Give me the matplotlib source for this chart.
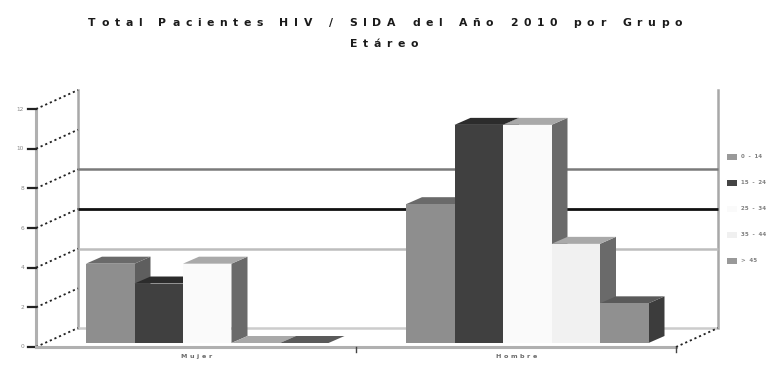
import matplotlib
matplotlib.use("Agg")
import matplotlib.pyplot as plt
from matplotlib.patches import Polygon, Rectangle

# ---- data ----
categories = ["Mujer", "Hombre"]
age_groups = ["0 - 14", "15 - 24", "25 - 34", "35 - 44", "> 45"]
values = {
    "Mujer": [4, 3, 4, 0, 0],
    "Hombre": [7, 11, 11, 5, 2],
}
y_ticks = [0, 2, 4, 6, 8, 10, 12]
title_line1 = "Total Pacientes HIV / SIDA del Año 2010 por Grupo"
title_line2 = "Etáreo"

# ---- styling ----
front_colors = ["#8e8e8e", "#404040", "#fafafa", "#f1f1f1", "#909090"]
top_colors = ["#6a6a6a", "#2c2c2c", "#a9a9a9", "#a9a9a9", "#5a5a5a"]
side_colors = ["#5e5e5e", "#2c2c2c", "#6a6a6a", "#6a6a6a", "#3c3c3c"]
legend_colors = ["#999999", "#444444", "#fafafa", "#f0f0f0", "#999999"]
wall_lines = {8: ("#7a7a7a", 1.8), 6: ("#111111", 2.0), 4: ("#bdbdbd", 1.8), 0: ("#cccccc", 1.8)}

W, H = 770, 367
XU = 320.0        # pixels per category slot
X0 = 36.0         # pixel column of the front value axis
YU = 19.83        # pixels per value unit
Y0 = 347.0        # pixel row of value 0 on the front plane

DX, DY = 42 / XU, 19 / YU              # depth of the whole floor
BFX, BFY = 0.0, 4 / YU                 # bars' front plane offset
BDX, BDY = 16 / XU, 7 / YU             # depth of each bar
BAR_W = 48.5 / XU
BAR_START = 50 / XU

fig = plt.figure(figsize=(W / 100, H / 100), dpi=100)
ax = fig.add_axes([0, 0, 1, 1])
ax.set_xlim(-X0 / XU, (W - X0) / XU)
ax.set_ylim(-(H - Y0) / YU, Y0 / YU)
ax.axis("off")

# back wall
ymax = y_ticks[-1]
ax.plot([DX, DX], [DY, ymax + DY], color="#a8a8a8", lw=1.8, zorder=1)
ax.plot([2 + DX, 2 + DX], [DY, ymax + DY], color="#a8a8a8", lw=1.8, zorder=1)
for v, (c, lw) in wall_lines.items():
    ax.plot([DX, 2 + DX], [v + DY, v + DY], color=c, lw=lw, zorder=1,
            solid_capstyle="butt")

# front value axis with dotted depth lines
ax.plot([0, 0], [0, ymax], color="#b0b0b0", lw=2.2, zorder=2)
for v in y_ticks:
    ax.plot([0, DX], [v, v + DY], color="#222222", lw=1.3,
            linestyle=(0, (1.2, 1.6)), zorder=2)
    ax.plot([-8 / XU, 0], [v, v], color="#222222", lw=1.6, zorder=2)
    ax.text(-12 / XU, v, str(v), ha="right", va="center", fontsize=4.2,
            color="#8a8a8a")

# floor front edge and category ticks
ax.plot([0, 2], [0, 0], color="#b0b0b0", lw=2.2, zorder=2)
ax.plot([2, 2 + DX], [0, DY], color="#222222", lw=1.3,
        linestyle=(0, (1.2, 1.6)), zorder=2)
for k in (1, 2):
    ax.plot([k, k], [0, -5 / YU], color="#444444", lw=1.0, zorder=2)


def spaced_label(x, y, s, track, **kw):
    """Draw a string character by character with extra letter spacing (data coords)."""
    r = fig.canvas.get_renderer()
    widths = []
    for ch in s:
        t = ax.text(0, 0, ch if ch != " " else "n", **kw)
        w = t.get_window_extent(r).width
        if ch == " ":
            w *= 0.6
        widths.append(w)
        t.remove()
    total = sum(widths) + track * (len(s) - 1)
    px, py = ax.transData.transform((x, y))
    cur = px - total / 2
    for ch, w in zip(s, widths):
        if ch != " ":
            ax.text(cur, py, ch, transform=None, ha="left", **kw)
        cur += w + track


# bars
z = 5
for ci, cat in enumerate(categories):
    for j, v in enumerate(values[cat]):
        x0 = ci + BAR_START + j * BAR_W
        x1 = x0 + BAR_W
        yb, yt = BFY, BFY + v
        front = Rectangle((x0, yb), BAR_W, v, facecolor=front_colors[j],
                          edgecolor="none", zorder=z)
        top = Polygon([(x0, yt), (x0 + BDX, yt + BDY), (x1 + BDX, yt + BDY), (x1, yt)],
                      closed=True, facecolor=top_colors[j], edgecolor="none", zorder=z)
        side = Polygon([(x1, yb), (x1 + BDX, yb + BDY), (x1 + BDX, yt + BDY), (x1, yt)],
                       closed=True, facecolor=side_colors[j], edgecolor="none", zorder=z)
        ax.add_patch(side)
        ax.add_patch(top)
        ax.add_patch(front)
        z += 1
    spaced_label(ci + 0.5, -0.5, cat, 2.6, fontsize=4.6, color="#6a6a6a",
                 va="center", fontweight="bold")

# legend
for j, lab in enumerate(age_groups):
    ypx = 157 + j * 26
    fig.patches.append(Rectangle(((727) / W, 1 - (ypx + 3) / H), 10 / W, 6 / H,
                                 transform=fig.transFigure, facecolor=legend_colors[j],
                                 edgecolor="none"))
    fig.text(741 / W, 1 - ypx / H, "  ".join(lab.split(" ")), fontsize=4.0,
             color="#808080", va="center", ha="left", fontweight="bold")

# title with wide letter spacing
title_kw = dict(fontsize=7.8, fontweight="bold", color="#1a1a1a", va="center",
                family=["DejaVu Sans"])


def spaced_title(s, xc_px, y_px, track):
    r = fig.canvas.get_renderer()
    widths = []
    for ch in s:
        t = fig.text(0, 0, ch if ch != " " else "n", **title_kw)
        w = t.get_window_extent(r).width
        if ch == " ":
            w *= 0.7
        widths.append(w)
        t.remove()
    total = sum(widths) + track * (len(s) - 1)
    cur = xc_px - total / 2
    for ch, w in zip(s, widths):
        if ch != " ":
            fig.text(cur / W, 1 - y_px / H, ch, ha="left", **title_kw)
        cur += w + track


spaced_title(title_line1, 385, 23, 5.6)
spaced_title(title_line2, 384, 44, 5.6)

fig.savefig("out.png", dpi=100)
